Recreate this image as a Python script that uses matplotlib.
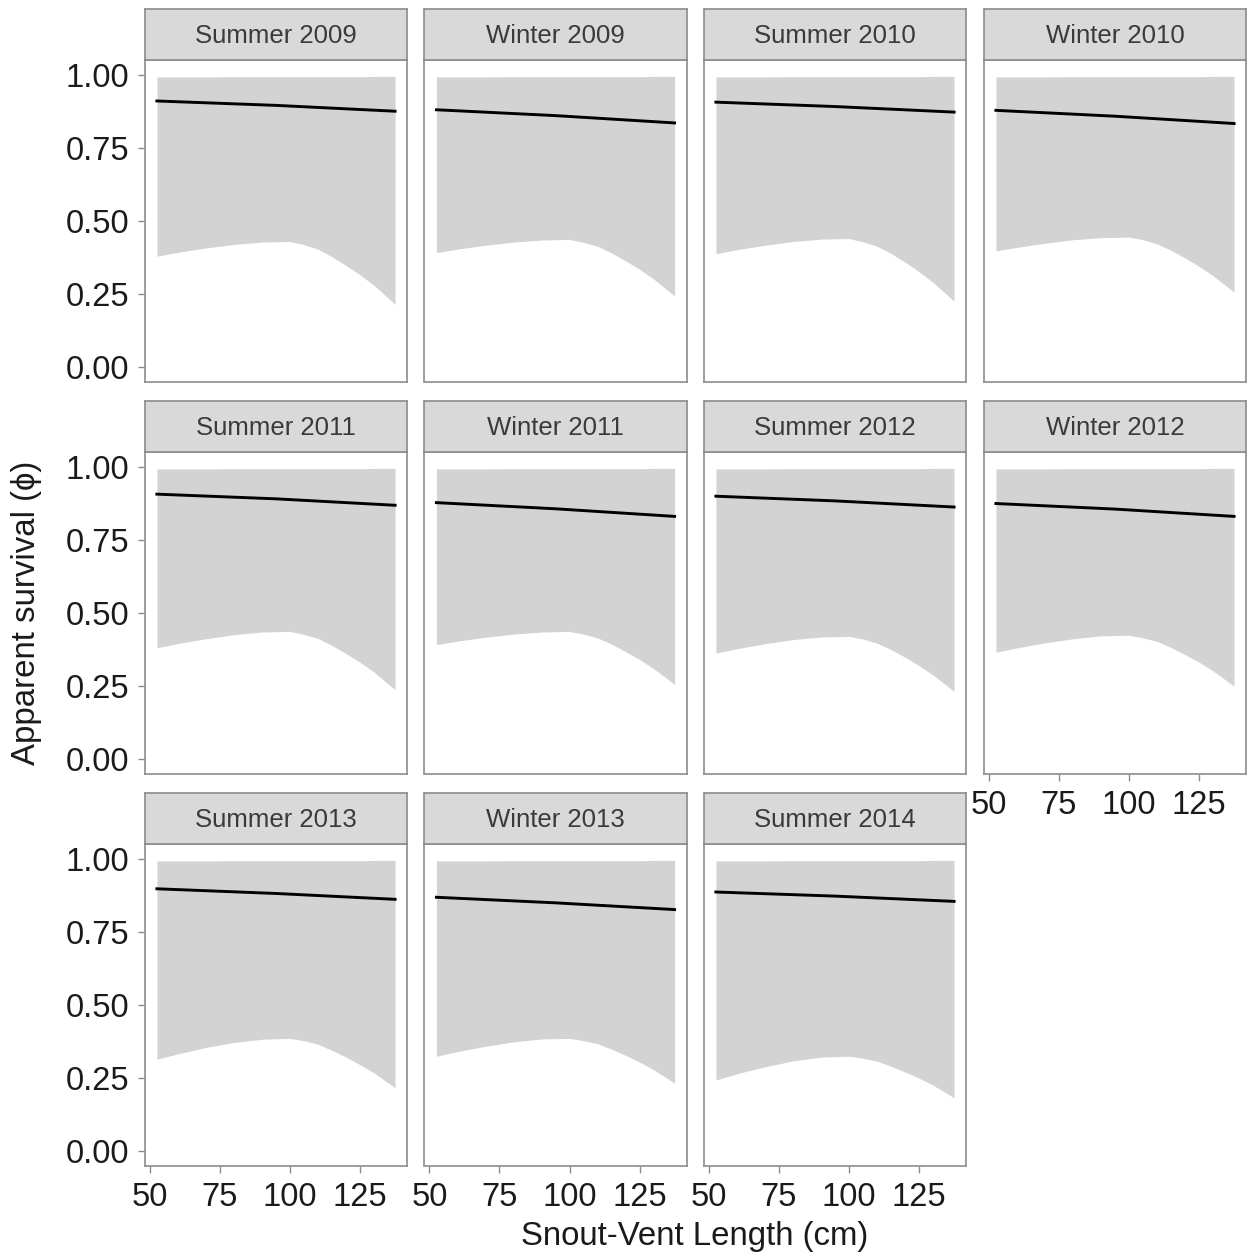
import numpy as np
import matplotlib.pyplot as plt

plt.rcParams['font.family'] = ['Liberation Sans', 'DejaVu Sans']

# facet labels, in reading order
panels = ['Summer 2009', 'Winter 2009', 'Summer 2010', 'Winter 2010',
          'Summer 2011', 'Winter 2011', 'Summer 2012', 'Winter 2012',
          'Summer 2013', 'Winter 2013', 'Summer 2014']

# snout-vent length grid (cm)
svl = [52.5, 60, 70, 80, 90, 100, 105, 110, 115, 120, 125, 130, 137.5]

# fitted apparent survival at svl = 52.5, 95, 137.5
svl_line = [52.5, 95, 137.5]
phi_fit = [
    [0.910, 0.895, 0.875],
    [0.880, 0.860, 0.835],
    [0.906, 0.891, 0.872],
    [0.878, 0.858, 0.833],
    [0.906, 0.890, 0.868],
    [0.877, 0.856, 0.830],
    [0.899, 0.883, 0.862],
    [0.874, 0.855, 0.830],
    [0.897, 0.881, 0.861],
    [0.868, 0.849, 0.826],
    [0.886, 0.872, 0.854],
]

# upper limit of the interval (nearly flat)
upper = [0.992, 0.992, 0.992, 0.993, 0.993, 0.993, 0.993,
         0.993, 0.993, 0.993, 0.993, 0.994, 0.994]

# lower limit of the interval
lower = [
    [.380, .393, .408, .420, .428, .430, .419, .404, .378, .348, .316, .280, .215],
    [.392, .404, .417, .428, .435, .437, .427, .414, .391, .364, .335, .302, .244],
    [.388, .402, .417, .430, .438, .440, .429, .414, .389, .359, .327, .290, .226],
    [.398, .410, .424, .436, .443, .445, .436, .422, .400, .374, .345, .313, .257],
    [.381, .396, .412, .426, .435, .437, .427, .413, .389, .361, .332, .298, .238],
    [.392, .404, .417, .428, .435, .437, .428, .415, .394, .368, .341, .310, .256],
    [.363, .378, .395, .409, .418, .420, .411, .397, .375, .349, .320, .288, .232],
    [.366, .381, .398, .412, .422, .424, .415, .403, .382, .358, .332, .302, .250],
    [.315, .333, .355, .372, .383, .386, .378, .366, .345, .322, .296, .268, .217],
    [.325, .341, .359, .374, .384, .386, .378, .368, .349, .328, .305, .279, .233],
    [.244, .265, .289, .309, .322, .325, .318, .308, .291, .271, .250, .226, .183],
]

yticks = [0.0, 0.25, 0.5, 0.75, 1.0]
xticks = [50, 75, 100, 125]

W, H = 1249, 1254
fig = plt.figure(figsize=(W / 100, H / 100), dpi=100)

col_left = [145, 424.5, 704, 984]
row_top = [60, 452, 844]     # panel tops in px
pw, ph, sh = 262, 322, 51

edge = '#8c8c8c'
for i, name in enumerate(panels):
    r, c = divmod(i, 4)
    x0 = col_left[c] / W
    y0 = 1 - (row_top[r] + ph) / H
    ax = fig.add_axes([x0, y0, pw / W, ph / H])
    ax.fill_between(svl, lower[i], upper, color='#d3d3d3', lw=0)
    ax.plot(svl_line, phi_fit[i], color='black', lw=2.1)
    ax.set_xlim(48.25, 141.75)
    ax.set_ylim(-0.05, 1.05)
    ax.set_xticks(xticks)
    ax.set_yticks(yticks)
    for s in ax.spines.values():
        s.set_color(edge)
        s.set_linewidth(1.2)
    ax.tick_params(direction='out', length=5, width=1.0, color=edge,
                   labelsize=23.5, labelcolor='#1a1a1a')
    ax.tick_params(axis='y', pad=6.5)
    ax.tick_params(axis='x', pad=6.5)
    if c != 0:
        ax.tick_params(axis='y', left=False, labelleft=False)
    else:
        ax.set_yticklabels(['0.00', '0.25', '0.50', '0.75', '1.00'])
    # bottom row, and the last panel of row two (nothing below it)
    if not (r == 2 or i == 7):
        ax.tick_params(axis='x', bottom=False, labelbottom=False)

    # facet strip
    sa = fig.add_axes([x0, 1 - row_top[r] / H, pw / W, sh / H])
    sa.set_facecolor('#d9d9d9')
    sa.set_xticks([])
    sa.set_yticks([])
    for s in sa.spines.values():
        s.set_color(edge)
        s.set_linewidth(1.2)
    sa.text(0.5, 0.47, name, ha='center', va='center', fontsize=18.5,
            color='#3a3a3a', transform=sa.transAxes)

fig.text(695 / W, 1 - 1237 / H, 'Snout-Vent Length (cm)', ha='center',
         va='center', fontsize=23.8, color='#1a1a1a')
fig.text(27 / W, 1 - 613 / H, 'Apparent survival (ϕ)', ha='center',
         va='center', rotation=90, fontsize=23.8, color='#1a1a1a')

fig.savefig('out.png', dpi=100, facecolor='white')
